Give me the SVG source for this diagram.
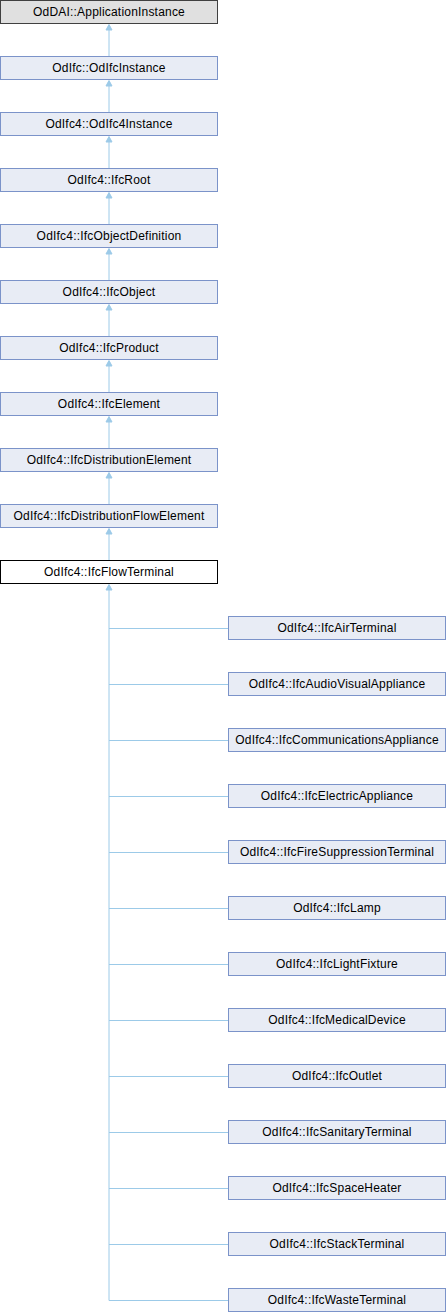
<svg xmlns="http://www.w3.org/2000/svg" width="446" height="1312" viewBox="0 0 446 1312">
<style>
.b rect{fill:#e8ecf5;stroke:#7b93c9;stroke-width:1}
.g rect{fill:#e0e0e0;stroke:#404040;stroke-width:1}
.w rect{fill:#ffffff;stroke:#000000;stroke-width:1}
text{font-family:"Liberation Sans",Arial,sans-serif;font-size:12px;letter-spacing:0.2px;fill:#000;text-anchor:middle}
.e line,.e path{stroke:#9ccae8;stroke-width:1;fill:none}
.e polygon{fill:#9ccae8;stroke:#9ccae8;stroke-width:1}
</style>
<g class="e" id="connectors">
<line x1="109" y1="30" x2="109" y2="56"/><polygon points="109,24.5 106,30 112,30"/>
<line x1="109" y1="86" x2="109" y2="112"/><polygon points="109,80.5 106,86 112,86"/>
<line x1="109" y1="142" x2="109" y2="168"/><polygon points="109,136.5 106,142 112,142"/>
<line x1="109" y1="198" x2="109" y2="224"/><polygon points="109,192.5 106,198 112,198"/>
<line x1="109" y1="254" x2="109" y2="280"/><polygon points="109,248.5 106,254 112,254"/>
<line x1="109" y1="310" x2="109" y2="336"/><polygon points="109,304.5 106,310 112,310"/>
<line x1="109" y1="366" x2="109" y2="392"/><polygon points="109,360.5 106,366 112,366"/>
<line x1="109" y1="422" x2="109" y2="448"/><polygon points="109,416.5 106,422 112,422"/>
<line x1="109" y1="478" x2="109" y2="504"/><polygon points="109,472.5 106,478 112,478"/>
<line x1="109" y1="534" x2="109" y2="560"/><polygon points="109,528.5 106,534 112,534"/>
<polygon points="109,584.5 106,590 112,590"/>
<path d="M109,590 V1300.5"/>
<path d="M109,628.5 H228 M109,684.5 H228 M109,740.5 H228 M109,796.5 H228 M109,852.5 H228 M109,908.5 H228 M109,964.5 H228 M109,1020.5 H228 M109,1076.5 H228 M109,1132.5 H228 M109,1188.5 H228 M109,1244.5 H228 M109,1300.5 H228"/>
</g>
<g id="n0" class="g"><rect x="0.5" y="0.5" width="217" height="23"/><text x="109" y="16">OdDAI::ApplicationInstance</text></g>
<g id="n1" class="b"><rect x="0.5" y="56.5" width="217" height="23"/><text x="109" y="72">OdIfc::OdIfcInstance</text></g>
<g id="n2" class="b"><rect x="0.5" y="112.5" width="217" height="23"/><text x="109" y="128">OdIfc4::OdIfc4Instance</text></g>
<g id="n3" class="b"><rect x="0.5" y="168.5" width="217" height="23"/><text x="109" y="184">OdIfc4::IfcRoot</text></g>
<g id="n4" class="b"><rect x="0.5" y="224.5" width="217" height="23"/><text x="109" y="240">OdIfc4::IfcObjectDefinition</text></g>
<g id="n5" class="b"><rect x="0.5" y="280.5" width="217" height="23"/><text x="109" y="296">OdIfc4::IfcObject</text></g>
<g id="n6" class="b"><rect x="0.5" y="336.5" width="217" height="23"/><text x="109" y="352">OdIfc4::IfcProduct</text></g>
<g id="n7" class="b"><rect x="0.5" y="392.5" width="217" height="23"/><text x="109" y="408">OdIfc4::IfcElement</text></g>
<g id="n8" class="b"><rect x="0.5" y="448.5" width="217" height="23"/><text x="109" y="464">OdIfc4::IfcDistributionElement</text></g>
<g id="n9" class="b"><rect x="0.5" y="504.5" width="217" height="23"/><text x="109" y="520">OdIfc4::IfcDistributionFlowElement</text></g>
<g id="n10" class="w"><rect x="0.5" y="560.5" width="217" height="23"/><text x="109" y="576">OdIfc4::IfcFlowTerminal</text></g>
<g id="c1" class="b"><rect x="228.5" y="616.5" width="217" height="23"/><text x="337" y="632">OdIfc4::IfcAirTerminal</text></g>
<g id="c2" class="b"><rect x="228.5" y="672.5" width="217" height="23"/><text x="337" y="688">OdIfc4::IfcAudioVisualAppliance</text></g>
<g id="c3" class="b"><rect x="228.5" y="728.5" width="217" height="23"/><text x="337" y="744">OdIfc4::IfcCommunicationsAppliance</text></g>
<g id="c4" class="b"><rect x="228.5" y="784.5" width="217" height="23"/><text x="337" y="800">OdIfc4::IfcElectricAppliance</text></g>
<g id="c5" class="b"><rect x="228.5" y="840.5" width="217" height="23"/><text x="337" y="856">OdIfc4::IfcFireSuppressionTerminal</text></g>
<g id="c6" class="b"><rect x="228.5" y="896.5" width="217" height="23"/><text x="337" y="912">OdIfc4::IfcLamp</text></g>
<g id="c7" class="b"><rect x="228.5" y="952.5" width="217" height="23"/><text x="337" y="968">OdIfc4::IfcLightFixture</text></g>
<g id="c8" class="b"><rect x="228.5" y="1008.5" width="217" height="23"/><text x="337" y="1024">OdIfc4::IfcMedicalDevice</text></g>
<g id="c9" class="b"><rect x="228.5" y="1064.5" width="217" height="23"/><text x="337" y="1080">OdIfc4::IfcOutlet</text></g>
<g id="c10" class="b"><rect x="228.5" y="1120.5" width="217" height="23"/><text x="337" y="1136">OdIfc4::IfcSanitaryTerminal</text></g>
<g id="c11" class="b"><rect x="228.5" y="1176.5" width="217" height="23"/><text x="337" y="1192">OdIfc4::IfcSpaceHeater</text></g>
<g id="c12" class="b"><rect x="228.5" y="1232.5" width="217" height="23"/><text x="337" y="1248">OdIfc4::IfcStackTerminal</text></g>
<g id="c13" class="b"><rect x="228.5" y="1288.5" width="217" height="23"/><text x="337" y="1304">OdIfc4::IfcWasteTerminal</text></g>
</svg>
